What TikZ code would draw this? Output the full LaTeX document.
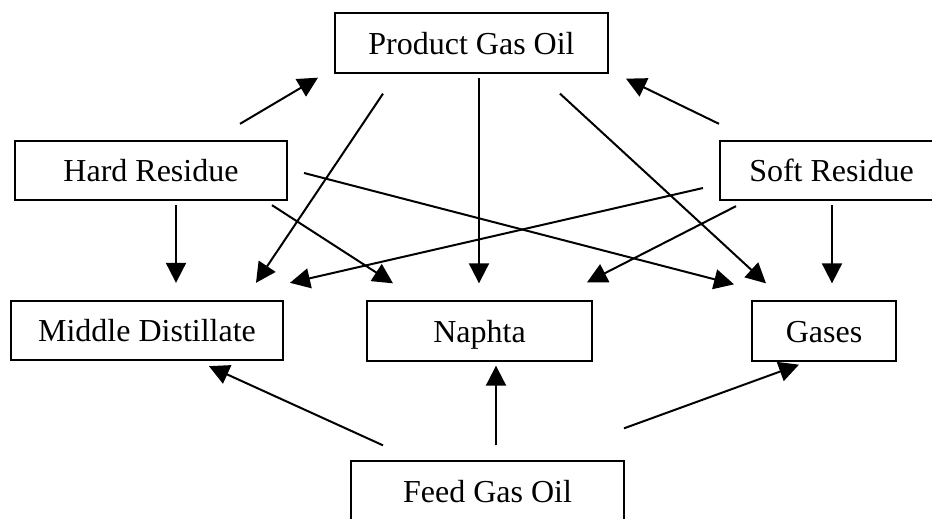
\documentclass[tikz,border=0pt]{standalone}
\usepackage{fontspec}
\setmainfont{Liberation Serif}
\usetikzlibrary{arrows.meta}

\tikzset{
  unitbox/.style={draw, line width=1.5pt, inner sep=0pt, minimum height=44.5pt, text height=19pt, text depth=2.5pt, font=\fontsize{24}{28}\selectfont},
  flow/.style={line width=1.5pt, -{Triangle[length=15pt,width=15pt]}}
}

\begin{document}
\begin{tikzpicture}[x=0.75pt, y=-0.75pt]
  \path[use as bounding box, clip] (0,0) rectangle (932,518);
  % boxes
  \node[unitbox, minimum width=204.75pt] (prod) at (471.5,43) {Product Gas Oil};
  \node[unitbox, minimum width=204pt] (hard) at (151,170.5) {Hard Residue};
  \node[unitbox, minimum width=167.25pt] (soft) at (831.5,170.5) {Soft Residue};
  \node[unitbox, minimum width=204pt] (mid) at (147,330.5) {Middle Distillate};
  \node[unitbox, minimum width=168.75pt] (naph) at (479.5,331) {Naphta};
  \node[unitbox, minimum width=108pt] (gas) at (824,331) {Gases};
  \node[unitbox, minimum width=204.75pt] (feed) at (487.5,491) {Feed Gas Oil};
  % residues to product gas oil
  \draw[flow] ([shift={(89,-16)}]hard.north) -- ([shift={(-16,4)}]prod.south west);
  \draw[flow] ([shift={(0,-16)}]soft.north west) -- ([shift={(17,5)}]prod.south east);
  % product gas oil to products
  \draw[flow] ([shift={(-88.5,20)}]prod.south) -- ([shift={(109,-17)}]mid.north);
  \draw[flow] ([shift={(7.5,4)}]prod.south) -- ([shift={(-0.5,-17)}]naph.north);
  \draw[flow] ([shift={(88.5,20)}]prod.south) -- ([shift={(15,-17)}]gas.north west);
  % hard residue
  \draw[flow] ([shift={(25,4)}]hard.south) -- ([shift={(29,-17)}]mid.north);
  \draw[flow] ([shift={(-16,4)}]hard.south east) -- ([shift={(-86.5,-17)}]naph.north);
  \draw[flow] ([shift={(16,2.5)}]hard.east) -- ([shift={(-17,-16)}]gas.north west);
  % soft residue
  \draw[flow] ([shift={(-16,17.5)}]soft.west) -- ([shift={(6,-17)}]mid.north east);
  \draw[flow] ([shift={(17,5)}]soft.south west) -- ([shift={(107.5,-18)}]naph.north);
  \draw[flow] ([shift={(0.5,4)}]soft.south) -- ([shift={(8,-17)}]gas.north);
  % feed gas oil
  \draw[flow] ([shift={(33,-15)}]feed.north west) -- ([shift={(62,5)}]mid.south);
  \draw[flow] ([shift={(8.5,-15)}]feed.north) -- ([shift={(16.5,4)}]naph.south);
  \draw[flow] ([shift={(-1,-32)}]feed.north east) -- ([shift={(48,3)}]gas.south west);
\end{tikzpicture}
\end{document}
